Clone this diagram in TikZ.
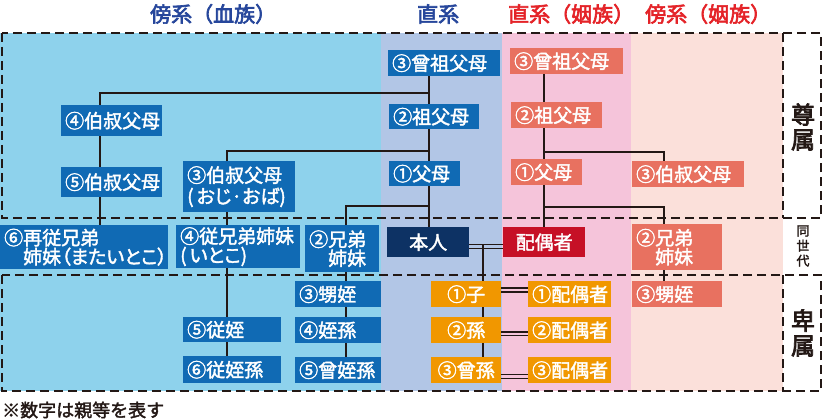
\documentclass[tikz,border=0pt]{standalone}
\usepackage{fontspec}
\setmainfont{Noto Sans CJK JP}
\newfontfamily\jpb{Noto Sans CJK JP}[FakeBold=2]
\newfontfamily\jpp{Noto Sans CJK JP}[RawFeature=+palt, FakeBold=2]
\newfontfamily\jph{Noto Sans CJK JP}[FakeBold=3]
\definecolor{bgblue}{HTML}{8ED2EC}
\definecolor{bglav}{HTML}{B2C6E6}
\definecolor{bgpink}{HTML}{F5C4DA}
\definecolor{bgpeach}{HTML}{FBE0DA}
\definecolor{boxblue}{HTML}{106AB4}
\definecolor{boxsalmon}{HTML}{E87160}
\definecolor{boxorange}{HTML}{F19700}
\definecolor{boxnavy}{HTML}{0D3264}
\definecolor{boxred}{HTML}{C61026}
\definecolor{hdblue}{HTML}{26469B}
\definecolor{hdred}{HTML}{E42328}
\definecolor{ink}{HTML}{231815}
\newcommand\bx[7]{%
  \pgfmathsetmacro\bxw{#5-#3}%
  \pgfmathsetmacro\bxh{#6-#4}%
  \pgfmathsetmacro\bxtw{#5-#3-8}%
  \node[#2, minimum width=\bxw pt, minimum height=\bxh pt, text width=\bxtw pt, anchor=north west] (#1) at (#3,#4) {#7};}
\tikzset{
  kbox/.style={rectangle, inner xsep=4pt, inner ysep=0pt, text=white, align=left,
    font=\jpb\fontsize{19}{19}\selectfont},
  bluebox/.style={kbox, fill=boxblue},
  salbox/.style={kbox, fill=boxsalmon},
  orbox/.style={kbox, fill=boxorange, align=center},
  navybox/.style={kbox, fill=boxnavy, align=center},
  redbox/.style={kbox, fill=boxred, align=center},
  conn/.style={draw=ink, line width=1.4pt},
  zone/.style={draw=ink, line width=1.6pt, dash pattern=on 9pt off 5pt},
  hdr/.style={anchor=west, inner sep=0pt, font=\jph\fontsize{21}{21}\selectfont},
  side/.style={inner sep=0pt, align=center, text=ink},
}
\begin{document}
\begin{tikzpicture}[x=1pt, y=-1pt]
\useasboundingbox (0,0) rectangle (823,420);
% background bands
\fill[bgblue] (0,33) rectangle (381,391);
\fill[bglav] (381,33) rectangle (502,391);
\fill[bgpink] (502,33) rectangle (631,391);
\fill[bgpeach] (631,33) rectangle (783,391);
% dashed zones
\draw[zone] (2,33) rectangle (821,218);
\draw[zone] (2,275) rectangle (821,391);
\draw[zone] (783,33) -- (783,218);
\draw[zone] (783,275) -- (783,391);
% headers
\node[hdr, text=hdblue] (h1) at (150,14) {傍系（血族）};
\node[hdr, text=hdblue] (h2) at (417,14) {直系};
\node[hdr, text=hdred] (h3) at (508,14) {直系（姻族）};
\node[hdr, text=hdred] (h4) at (645,14) {傍系（姻族）};
% side labels
\node[side, font=\jph\fontsize{24}{25}\selectfont] (sonzoku) at (803,127) {尊\\属};
\node[side, font=\jpb\fontsize{13}{15}\selectfont] (dosedai) at (803,246) {同\\世\\代};
\node[side, font=\jph\fontsize{24}{25}\selectfont] (hizoku) at (803,333) {卑\\属};
% footnote
\node[anchor=west, inner sep=0pt, text=ink, font=\jpb\fontsize{18}{18}\selectfont] (note) at (2,410) {※数字は親等を表す};
% blue (blood collateral) boxes
\bx{boji4}{bluebox}{61}{105}{162}{136}{④伯叔父母}
\bx{boji5}{bluebox}{61}{167}{162}{197}{⑤伯叔父母}
\bx{boji3}{bluebox, font=\jpb\fontsize{19}{21}\selectfont}{183}{161}{295}{212}{③伯叔父母\\\mbox{\jpp(\kern3pt おじ·おば)}}
\bx{bmata}{bluebox, inner xsep=2pt}{0}{225}{168}{269}{⑥再従兄弟\\\hspace*{1em}\mbox{\jpp 姉妹（またいとこ）}}
\bx{bitoko}{bluebox, inner xsep=2pt}{176}{225}{300}{268}{④従兄弟姉妹\\\mbox{\jpp(\kern3pt いとこ)}}
\bx{bkyodai}{bluebox, inner xsep=3pt}{305}{225}{379}{272}{②兄弟\\\hspace*{1em}姉妹}
\bx{boi}{bluebox}{295}{281}{381}{307}{③甥姪}
\bx{bteison}{bluebox}{295}{317}{381}{343}{④姪孫}
\bx{bsoteison}{bluebox}{295}{357}{381}{383}{⑤曾姪孫}
\bx{bjuoi}{bluebox}{183}{317}{281}{342}{⑤従姪}
\bx{bjuoison}{bluebox}{183}{356}{281}{383}{⑥従姪孫}
% direct line
\bx{d3}{bluebox}{388}{50}{500}{76}{③曾祖父母}
\bx{d2}{bluebox}{389}{104}{479}{129}{②祖父母}
\bx{d1}{bluebox}{389}{161}{460}{186}{①父母}
\bx{honnin}{navybox}{387}{227}{469}{257}{本人}
\bx{haigu}{redbox}{503}{227}{585}{257}{配偶者}
% in-law boxes
\bx{s3}{salbox}{510}{48}{623}{74}{③曾祖父母}
\bx{s2}{salbox}{511}{102}{602}{128}{②祖父母}
\bx{s1}{salbox}{511}{159}{582}{185}{①父母}
\bx{soji}{salbox}{632}{161}{744}{187}{③伯叔父母}
\bx{skyodai}{salbox}{632}{224}{722}{270}{②兄弟\\\hspace*{1em}姉妹}
\bx{soi}{salbox}{632}{281}{722}{307}{③甥姪}
% descendants
\bx{c1}{orbox}{431}{281}{501}{307}{①子}
\bx{c2}{orbox}{431}{317}{501}{343}{②孫}
\bx{c3}{orbox}{431}{357}{501}{383}{③曾孫}
\bx{p1}{orbox}{528}{281}{611}{307}{①配偶者}
\bx{p2}{orbox}{528}{317}{611}{343}{②配偶者}
\bx{p3}{orbox}{528}{357}{611}{383}{③配偶者}
% column / row coordinates
\coordinate (colA) at (100,0);
\coordinate (colB) at (227,0);
\coordinate (colC) at (346,0);
\coordinate (colD) at (429,0);
\coordinate (colE) at (483,0);
\coordinate (colF) at (544,0);
\coordinate (colG) at (664,0);
\coordinate (rowA) at (0,93);
\coordinate (rowB) at (0,151);
\coordinate (rowC) at (0,206);
\coordinate (rowF) at (0,152);
\coordinate (rowG) at (0,207);
% connectors: blood collateral
\draw[conn] (boji4.north -| colA) |- (colD |- rowA);
\draw[conn] (boji4.south -| colA) -- (boji5.north -| colA)
            (boji5.south -| colA) -- (bmata.north -| colA);
\draw[conn] (boji3.north -| colB) |- (colD |- rowB);
\draw[conn] (boji3.south -| colB) -- (bitoko.north -| colB)
            (bitoko.south -| colB) -- (bjuoi.north -| colB)
            (bjuoi.south -| colB) -- (bjuoison.north -| colB);
\draw[conn] (bkyodai.north -| colC) |- (colD |- rowC);
\draw[conn] (bkyodai.south -| colC) -- (boi.north -| colC)
            (boi.south -| colC) -- (bteison.north -| colC)
            (bteison.south -| colC) -- (bsoteison.north -| colC);
% direct spine
\draw[conn] (d3.south -| colD) -- (d2.north -| colD)
            (d2.south -| colD) -- (d1.north -| colD)
            (d1.south -| colD) -- (honnin.north -| colD);
% marriage
\draw[conn] ([yshift=-6pt]honnin.east) -- ([yshift=-6pt]haigu.west);
\draw[conn] ([yshift=-2pt]honnin.east) -- ([yshift=-2pt]haigu.west);
\draw[conn] ([yshift=-2pt]honnin.east -| colE) -- (c1.north -| colE)
            (c1.south -| colE) -- (c2.north -| colE)
            (c2.south -| colE) -- (c3.north -| colE);
\draw[conn] ([yshift=-7pt]c1.north east) -- ([yshift=-7pt]p1.north west);
\draw[conn] ([yshift=-11pt]c1.north east) -- ([yshift=-11pt]p1.north west);
\draw[conn] ([yshift=8pt]c2.south east) -- ([yshift=8pt]p2.south west);
\draw[conn] ([yshift=11.5pt]c2.south east) -- ([yshift=11.5pt]p2.south west);
\draw[conn] ([yshift=5pt]c3.south east) -- ([yshift=5pt]p3.south west);
\draw[conn] ([yshift=9pt]c3.south east) -- ([yshift=9pt]p3.south west);
% in-law spine
\draw[conn] (s3.south -| colF) -- (s2.north -| colF)
            (s2.south -| colF) -- (s1.north -| colF)
            (s1.south -| colF) -- (haigu.north -| colF);
\draw[conn] (colF |- rowF) -| (soji.north -| colG);
\draw[conn] (colF |- rowG) -| (skyodai.north -| colG);
\draw[conn] (skyodai.south -| colG) -- (soi.north -| colG);
\end{tikzpicture}
\end{document}
